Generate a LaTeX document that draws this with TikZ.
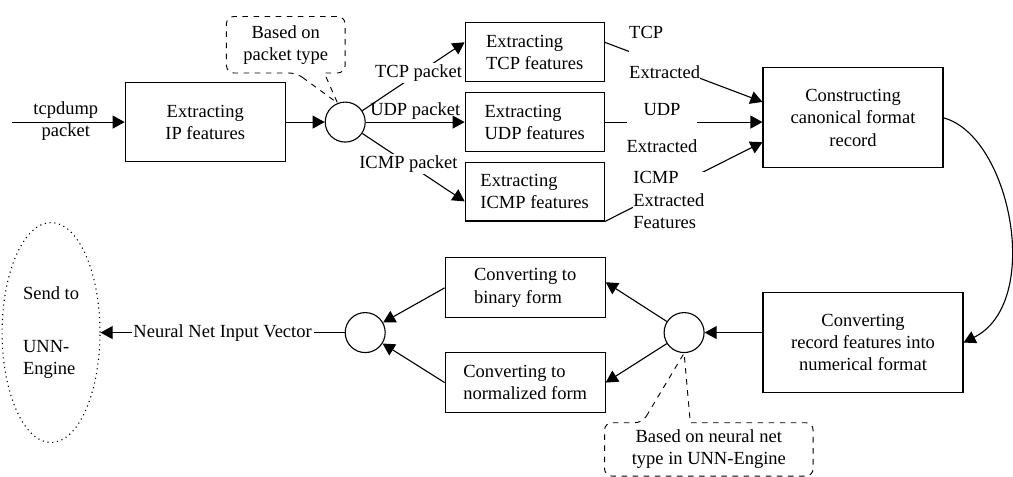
\documentclass[tikz,border=0pt]{standalone}
\usepackage{fontspec}
\setmainfont{Liberation Serif}
\usetikzlibrary{shapes.geometric, arrows.meta, calc}
\tikzset{
  block/.style={rectangle, draw, line width=0.6pt, align=center,
    minimum width=3.04cm, minimum height=1.14cm, inner sep=2pt},
  pktblock/.style={block, align=left, minimum width=2.64cm, minimum height=1.12cm},
  sumjunc/.style={circle, draw, line width=0.6pt, minimum size=0.76cm, inner sep=0pt},
  arrow/.style={-{Triangle[length=6.5pt, width=7pt]}, line width=0.6pt},
  line/.style={line width=0.6pt},
  onlabel/.style={fill=white, inner sep=1pt},
  outlabel/.style={fill=white, inner sep=0pt},
  notetext/.style={align=center, inner sep=0pt},
  noteline/.style={dashed, line width=0.5pt}
}

\begin{document}
\begin{tikzpicture}
  \useasboundingbox (0,0) rectangle (19.25,9.06);

  % Incoming packet and IP stage
  \coordinate (pktin) at (0.23,6.74);
  \node[align=center] (tcpdump) at (1.25,6.76) {tcpdump\\packet};
  \node[block, minimum height=1.5cm] (ipfeat) at (3.9,6.74) {Extracting\\IP features};
  \node[sumjunc] (pktsplit) at (6.56,6.74) {};
  \draw[arrow] (pktin) -- (ipfeat.west);
  \draw[arrow] (ipfeat.east) -- (pktsplit.west);

  % Dispatch note
  \node[notetext, minimum width=2.24cm, minimum height=1.06cm] (pktnote) at (5.43,8.21) {Based on\\packet type};
  \draw[noteline] ($(pktnote.south west)+(1.33,0)$) -- (pktsplit.112) -- ($(pktnote.south west)+(1.86,0)$)
    [rounded corners=4pt] -- (pktnote.south east) -- (pktnote.north east) -- (pktnote.north west)
    -- (pktnote.south west) -- cycle;

  % Per-protocol feature extraction
  \node[pktblock] (tcpfeat) at (10.16,8.07) {Extracting\\TCP features};
  \node[pktblock] (udpfeat) at (10.16,6.74) {Extracting\\UDP features};
  \node[pktblock] (icmpfeat) at (10.16,5.42) {Extracting\\ICMP features};
  \draw[arrow] (pktsplit) -- node[onlabel, pos=0.55] {TCP packet} (tcpfeat.172);
  \draw[arrow] (pktsplit) -- node[above, inner sep=1pt] {UDP packet} (udpfeat.west);
  \draw[arrow] (pktsplit) -- node[onlabel, pos=0.45] {ICMP packet} (icmpfeat.188);

  % Canonical record
  \node[block, minimum width=3.42cm, minimum height=1.9cm] (canon) at (16.21,6.82) {Constructing\\canonical format\\record};
  \draw[arrow] (tcpfeat.8) -- (canon.170);
  \draw[arrow] (udpfeat.east) -- (udpfeat.east -| canon.west);
  \draw[arrow] (icmpfeat.south east) -- (canon.195);
  \node[outlabel, anchor=west, align=left] (tcpout) at (11.95,8.06) {TCP\\[9.5pt]Extracted};
  \node[outlabel, align=center] (udpout) at (12.58,6.63) {UDP\\[8pt]Extracted};
  \node[outlabel, anchor=west, align=left] (icmpout) at (12.03,5.26) {ICMP\\Extracted\\Features};

  % Numerical conversion
  \node[block, minimum width=3.8cm, minimum height=1.9cm] (numconv) at (16.4,2.55) {Converting\\record features into\\numerical format};
  \draw[arrow] (canon.east) .. controls +(1.27,-0.34) and +(1.52,0.76) .. (numconv.east);
  \node[sumjunc] (nnsplit) at (13.0,2.74) {};
  \draw[arrow] (numconv.west |- nnsplit) -- (nnsplit);

  % Neural net note
  \node[notetext, minimum width=3.95cm, minimum height=1.0cm] (nnnote) at (13.47,0.52) {Based on neural net\\type in UNN-Engine};
  \draw[noteline] ($(nnnote.north west)+(0.72,0)$) -- (nnsplit.south) -- ($(nnnote.north west)+(1.63,0)$)
    [rounded corners=4pt] -- (nnnote.north east) -- (nnnote.south east) -- (nnnote.south west)
    -- (nnnote.north west) -- cycle;

  % Binary / normalized forms
  \node[block, align=left] (binform) at (9.98,3.59) {Converting to\\binary form};
  \node[block, align=left] (normform) at (9.98,1.79) {Converting to\\normalized form};
  \node[sumjunc] (nnmerge) at (6.94,2.74) {};
  \draw[arrow] (nnsplit) -- (binform.4);
  \draw[arrow] (nnsplit) -- (normform.east);
  \draw[arrow] (binform.west) -- (nnmerge);
  \draw[arrow] (normform.west) -- (nnmerge);

  % Output to the engine
  \node[ellipse, draw, dotted, line width=0.6pt, minimum width=1.86cm, minimum height=4.18cm, align=left] (unn) at (0.97,2.74) {Send to\\[17pt]UNN-\\Engine};
  \draw[arrow] (nnmerge.west) -- node[onlabel] {Neural Net Input Vector} (unn.east);
\end{tikzpicture}
\end{document}
